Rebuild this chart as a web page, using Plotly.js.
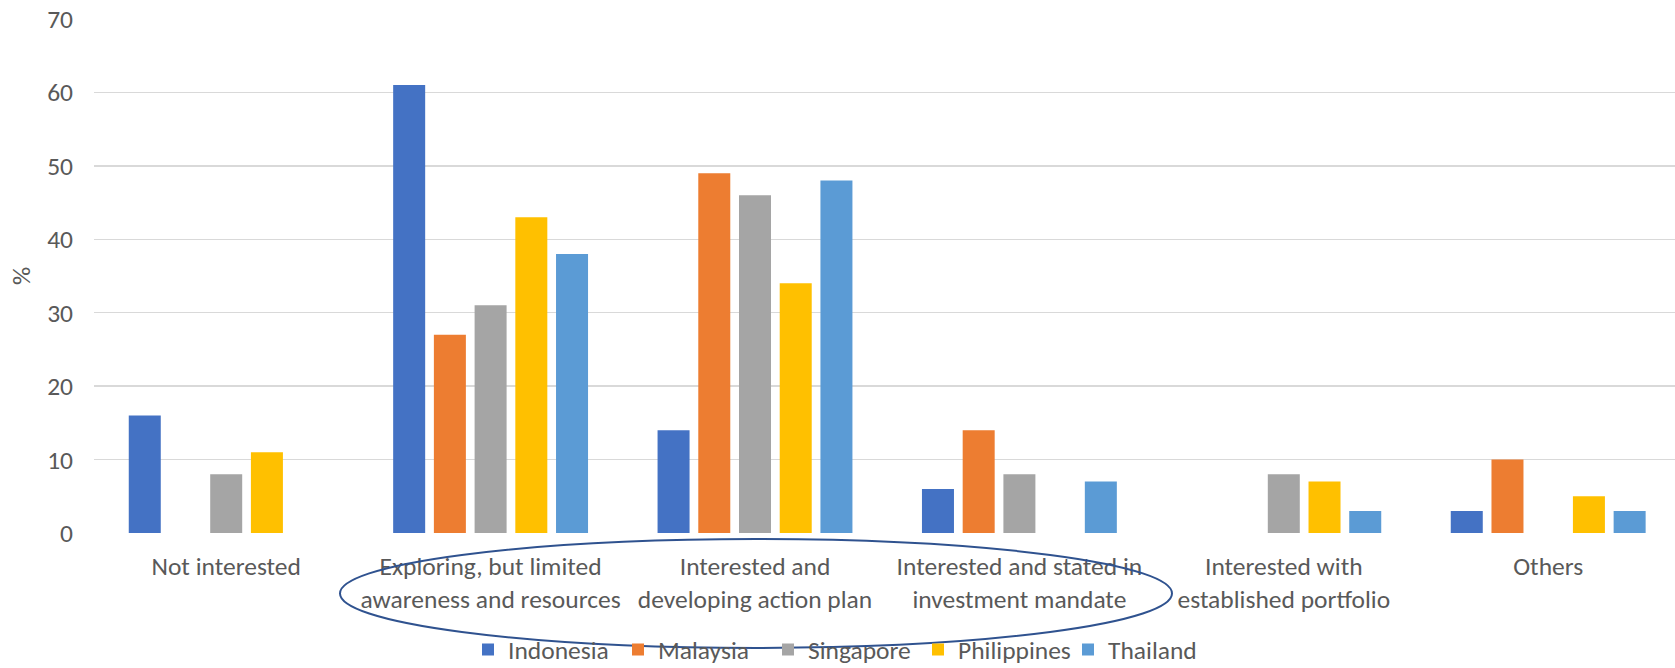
<!DOCTYPE html>
<html>
<head>
<meta charset="utf-8">
<script src="https://cdn.plot.ly/plotly-3.0.1.min.js"></script>
<style>
  html, body { margin: 0; padding: 0; background: #ffffff; }
  #chart { width: 1675px; height: 668px; }
</style>
</head>
<body>
<div id="chart"></div>
<script>
// Investor stance on the theme, share of respondents by country (%)
const categories = [
  'Not interested',
  'Exploring, but limited<br>awareness and resources',
  'Interested and<br>developing action plan',
  'Interested and stated in<br>investment mandate',
  'Interested with<br>established portfolio',
  'Others'
];
const countries = ['Indonesia', 'Malaysia', 'Singapore', 'Philippines', 'Thailand'];
const indonesia   = [16, 61, 14, 6, 0, 3];
const malaysia    = [0, 27, 49, 14, 0, 10];
const singapore   = [8, 31, 46, 8, 8, 0];
const philippines = [11, 43, 34, 0, 7, 5];
const thailand    = [0, 38, 48, 7, 3, 3];
const yTicks = [0, 10, 20, 30, 40, 50, 60, 70];

const seriesValues = [indonesia, malaysia, singapore, philippines, thailand];
const seriesColors = ['#4472C4', '#ED7D31', '#A5A5A5', '#FFC000', '#5B9BD5'];

const W = 1675, H = 668;
const M = { l: 94, r: 0, t: 18.5, b: 135, autoexpand: false };
const plotW = W - M.l - M.r, plotH = H - M.t - M.b;
const catPitch = 264.4;
const FONT = 'Carlito, Calibri, "Liberation Sans Narrow", "Liberation Sans", sans-serif';
const TXT = '#595959';

// pixel -> paper helpers for the highlight ring and legend placement
const px = x => (x - M.l) / plotW;
const py = y => (H - M.b - y) / plotH;

const traces = countries.map((name, i) => ({
  type: 'bar',
  name: name,
  x: categories,
  y: seriesValues[i],
  marker: { color: seriesColors[i] },
  hoverinfo: 'x+y+name'
}));

const layout = {
  width: W,
  height: H,
  margin: M,
  paper_bgcolor: '#ffffff',
  plot_bgcolor: '#ffffff',
  font: { family: FONT, size: 25.5, color: TXT },
  barmode: 'group',
  bargap: 0.23,
  bargroupgap: 0.214,
  showlegend: true,
  legend: {
    orientation: 'h',
    x: px(468),
    xanchor: 'left',
    y: py(650),
    yanchor: 'middle',
    font: { family: FONT, size: 25.5, color: TXT },
    entrywidth: 105,
    entrywidthmode: 'pixels',
    traceorder: 'normal',
    bgcolor: 'rgba(0,0,0,0)'
  },
  xaxis: {
    type: 'category',
    range: [-0.5, -0.5 + plotW / catPitch],
    showgrid: false,
    zeroline: false,
    showline: false,
    ticks: '',
    ticklabelstandoff: 15,
    tickfont: { family: FONT, size: 25.5, color: TXT },
    automargin: false,
    fixedrange: true
  },
  yaxis: {
    range: [0, 70],
    tickvals: yTicks,
    ticktext: yTicks.map(String),
    showgrid: true,
    gridcolor: '#D9D9D9',
    gridwidth: 1.5,
    zeroline: false,
    showline: false,
    ticks: '',
    ticklabelstandoff: 20,
    tickfont: { family: FONT, size: 25.5, color: TXT },
    title: { text: '%', standoff: 9, font: { family: FONT, size: 25.5, color: TXT } },
    automargin: false,
    fixedrange: true
  },
  shapes: [{
    type: 'circle',
    xref: 'paper',
    yref: 'paper',
    x0: px(340), x1: px(1172),
    y0: py(648), y1: py(539),
    line: { color: '#2F528F', width: 2 },
    fillcolor: 'rgba(0,0,0,0)',
    layer: 'above'
  }]
};

Plotly.newPlot('chart', traces, layout, { displayModeBar: false, staticPlot: true });
</script>
</body>
</html>
